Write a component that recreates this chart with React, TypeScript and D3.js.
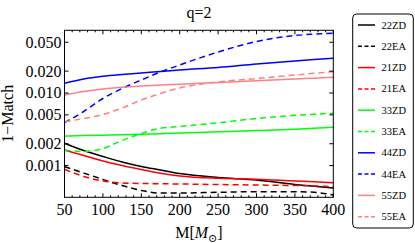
import React, { useEffect, useRef } from 'react'
import * as d3 from 'd3'

// total mass in solar masses
const masses = [50, 75, 100, 125, 150, 175, 200, 250, 300, 350, 375, 400]

// 1 - Match for each mode / model
const zd22 = [0.00203, 0.00161, 0.001335, 0.00112, 0.000972, 0.00087, 0.000778, 0.000686, 0.000634, 0.000549, 0.00052, 0.000491]
const ea22 = [0.000966, 0.000791, 0.000644, 0.000532, 0.000454, 0.000419, 0.000419, 0.000429, 0.000437, 0.000437, 0.000429, 0.000394]
const zd21 = [0.00164, 0.001377, 0.001157, 0.001003, 0.000884, 0.000783, 0.000719, 0.000668, 0.00065, 0.000614, 0.000598, 0.000581]
const ea21 = [0.000889, 0.000708, 0.000614, 0.000576, 0.000567, 0.000562, 0.000558, 0.000549, 0.00054, 0.000532, 0.000524, 0.000515]
const zd33 = [0.002557, 0.00259, 0.002623, 0.002656, 0.002698, 0.00275, 0.002812, 0.002921, 0.003034, 0.003172, 0.003265, 0.00337]
const ea33 = [0.00164, 0.001563, 0.001719, 0.002217, 0.002768, 0.003265, 0.003456, 0.003886, 0.004454, 0.00493, 0.005105, 0.005253]
const zd44 = [0.0136, 0.015585, 0.016982, 0.017981, 0.01886, 0.019776, 0.020743, 0.022451, 0.025076, 0.027595, 0.02884, 0.030061]
const ea44 = [0.0039, 0.00556, 0.0084, 0.011535, 0.015104, 0.019465, 0.024306, 0.036703, 0.051212, 0.061944, 0.064548, 0.066414]
const zd55 = [0.009386, 0.010488, 0.011353, 0.011981, 0.012486, 0.01289, 0.013221, 0.013951, 0.014723, 0.015585, 0.015988, 0.016452]
const ea55 = [0.004025, 0.004454, 0.005058, 0.006214, 0.008009, 0.009842, 0.011718, 0.014174, 0.015836, 0.017698, 0.018675, 0.019653]

const series = [
  { name: '22ZD', color: '#000000', dashed: false, values: zd22 },
  { name: '22EA', color: '#000000', dashed: true, values: ea22 },
  { name: '21ZD', color: '#ff0000', dashed: false, values: zd21 },
  { name: '21EA', color: '#ff0000', dashed: true, values: ea21 },
  { name: '33ZD', color: '#00ff00', dashed: false, values: zd33 },
  { name: '33EA', color: '#00ff00', dashed: true, values: ea33 },
  { name: '44ZD', color: '#0000ff', dashed: false, values: zd44 },
  { name: '44EA', color: '#0000ff', dashed: true, values: ea44 },
  { name: '55ZD', color: '#ff8080', dashed: false, values: zd55 },
  { name: '55EA', color: '#ff8080', dashed: true, values: ea55 }
]

const yTicks = [0.05, 0.02, 0.01, 0.005, 0.002, 0.001]
const yTickLabels = ['0.050', '0.020', '0.010', '0.005', '0.002', '0.001']
const xTicks = [50, 100, 150, 200, 250, 300, 350, 400]

const width = 415
const height = 243
const margin = { top: 30.3, right: 81.7, bottom: 45.7, left: 64.5 }
const font = "'Liberation Serif', 'DejaVu Serif', serif"

export default function App () {
  const ref = useRef<SVGSVGElement>(null)

  useEffect(() => {
    const svg = d3.select(ref.current)
    svg.selectAll('*').remove()

    const x0 = margin.left
    const x1 = width - margin.right
    const y0 = margin.top
    const y1 = height - margin.bottom

    // scales
    const xScale = d3.scaleLinear().domain([50, 400]).range([x0, x1])
    const yScale = d3.scaleLog().domain([0.000366, 0.0730]).range([y1, y0])

    // curves
    const line = d3.line<number>()
      .x((d, i) => xScale(masses[i]))
      .y(d => yScale(d))
      .curve(d3.curveMonotoneX)

    const plot = svg.append('g')
    series.forEach(s => {
      plot.append('path')
        .attr('d', line(s.values))
        .attr('fill', 'none')
        .attr('stroke', s.color)
        .attr('stroke-width', 1.5)
        .attr('stroke-dasharray', s.dashed ? '6,4' : null)
    })

    // frame
    svg.append('rect')
      .attr('x', x0).attr('y', y0)
      .attr('width', x1 - x0).attr('height', y1 - y0)
      .attr('fill', 'none').attr('stroke', '#000').attr('stroke-width', 1)

    // x ticks (in, top and bottom)
    const ticks = svg.append('g').attr('stroke', '#000').attr('stroke-width', 1)
    d3.range(50, 401, 10).forEach(v => {
      const len = v % 50 === 0 ? 4 : 2
      const px = xScale(v)
      ticks.append('line').attr('x1', px).attr('x2', px).attr('y1', y1).attr('y2', y1 - len)
      ticks.append('line').attr('x1', px).attr('x2', px).attr('y1', y0).attr('y2', y0 + len)
    })
    yTicks.forEach(v => {
      const py = yScale(v)
      ticks.append('line').attr('x1', x0).attr('x2', x0 + 4).attr('y1', py).attr('y2', py)
      ticks.append('line').attr('x1', x1).attr('x2', x1 - 4).attr('y1', py).attr('y2', py)
    })

    // text uses the attribute so the serif family sticks
    const txt = (sel: any, size: number) =>
      sel.attr('font-family', font).attr('font-size', size).attr('fill', '#000')

    // tick labels
    txt(svg.append('g').selectAll('text').data(xTicks).join('text')
      .attr('x', d => xScale(d)).attr('y', 215)
      .attr('text-anchor', 'middle'), 16)
      .text(d => d)

    txt(svg.append('g').selectAll('text').data(yTicks).join('text')
      .attr('x', x0 - 3).attr('y', d => yScale(d) + 5.5)
      .attr('text-anchor', 'end'), 16)
      .text((d, i) => yTickLabels[i])

    // title and axis labels
    txt(svg.append('text')
      .attr('x', (x0 + x1) / 2).attr('y', 18)
      .attr('text-anchor', 'middle'), 16)
      .text('q=2')

    txt(svg.append('text')
      .attr('transform', `translate(13, ${(y0 + y1) / 2}) rotate(-90)`)
      .attr('text-anchor', 'middle'), 16)
      .text('1\u2212Match')

    const xl = txt(svg.append('text')
      .attr('x', (x0 + x1) / 2).attr('y', 238)
      .attr('text-anchor', 'middle'), 16)
    xl.append('tspan').text('M[')
    xl.append('tspan').attr('font-style', 'italic').text('M')
    xl.append('tspan').attr('dy', 4).attr('font-size', 11).text('\u2299')
    xl.append('tspan').attr('dy', -4).text(']')

    // legend
    const legend = svg.append('g')
    legend.append('rect')
      .attr('x', 352.7).attr('y', 14)
      .attr('width', 60.6).attr('height', 214)
      .attr('rx', 4).attr('ry', 4)
      .attr('fill', '#fff').attr('stroke', '#000').attr('stroke-width', 1)

    series.forEach((s, i) => {
      const ly = 25 + i * 21.3
      legend.append('line')
        .attr('x1', 358).attr('x2', 375).attr('y1', ly).attr('y2', ly)
        .attr('stroke', s.color).attr('stroke-width', 1.5)
        .attr('stroke-dasharray', s.dashed ? '4,2.5' : null)
      txt(legend.append('text')
        .attr('x', 381.5).attr('y', ly + 3.5), 10.5)
        .text(s.name)
    })
  }, [])

  return (
    <svg ref={ref} width={width} height={height}
      style={{ position: 'absolute', left: 0, top: 0, background: '#fff' }} />
  )
}
